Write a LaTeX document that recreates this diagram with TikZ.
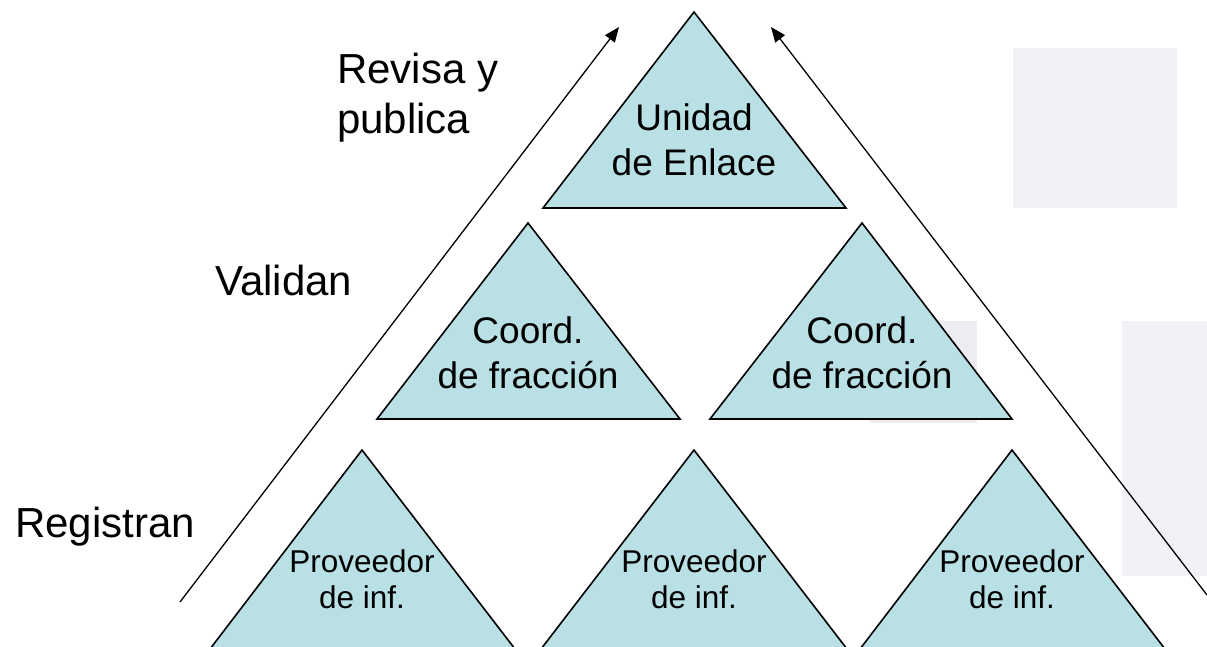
\documentclass[tikz,border=0pt]{standalone}
\usepackage{fontspec}
\setmainfont{Liberation Sans}
\usetikzlibrary{arrows.meta}
\definecolor{triblue}{RGB}{185,224,228}
\definecolor{shadea}{RGB}{241,242,246}
\definecolor{shadeb}{RGB}{236,236,241}
\tikzset{
    tri/.style = {draw, fill=triblue, line width=1.6pt, line join=miter},
    big/.style = {align=center, inner sep=0pt, font=\fontsize{37}{45}\selectfont},
    small/.style = {align=center, inner sep=0pt, font=\fontsize{31.5}{36}\selectfont},
    lbl/.style = {align=left, inner sep=0pt, font=\fontsize{42}{50}\selectfont},
    arrow/.style = {draw, line width=1.3pt, -{Triangle[length=15pt,width=12pt]}},
    shade/.style = {fill=#1, draw=none}
}

\begin{document}
\begin{tikzpicture}[x=1pt, y=-1pt]
                \useasboundingbox (0,0) rectangle (1207,646);
                \fill[shade=shadea] (1013,48) rectangle (1177,208);
                \fill[shade=shadeb] (870,321) rectangle (977,423);
                \fill[shade=shadea] (1122,321) rectangle (1207,576);
                \draw[tri] (694,12) -- (543,208) -- (846,208) -- cycle;
                \draw[tri] (528,223) -- (377,419) -- (680,419) -- cycle;
                \draw[tri] (862,223) -- (710,419) -- (1012,419) -- cycle;
                \draw[tri] (362,450) -- (210,649) -- (515,649) -- cycle;
                \draw[tri] (694,450) -- (541,649) -- (847,649) -- cycle;
                \draw[tri] (1012,450) -- (860,649) -- (1165,649) -- cycle;
                \node[big] (unidad) at (694,140) {Unidad\\de Enlace};
                \node[big] (coordl) at (528,353) {Coord.\\de fracción};
                \node[big] (coordr) at (862,353) {Coord.\\de fracción};
                \node[small] (provl) at (362,579) {Proveedor\\de inf.};
                \node[small] (provm) at (694,579) {Proveedor\\de inf.};
                \node[small] (provr) at (1012,579) {Proveedor\\de inf.};
                \node[lbl, anchor=north west] (revisa) at (337,53) {Revisa y\\publica};
                \node[lbl, anchor=base west] (validan) at (215,295) {Validan};
                \node[lbl, anchor=base west] (registran) at (15,537) {Registran};
                \coordinate (lfoot) at (180,602);
                \coordinate (ltip) at (619,27);
                \coordinate (rfoot) at (1207,595);
                \coordinate (rtip) at (771,27);
                \draw[arrow] (lfoot) -- (ltip);
                \draw[arrow] (rfoot) -- (rtip);
            \end{tikzpicture}
\end{document}
